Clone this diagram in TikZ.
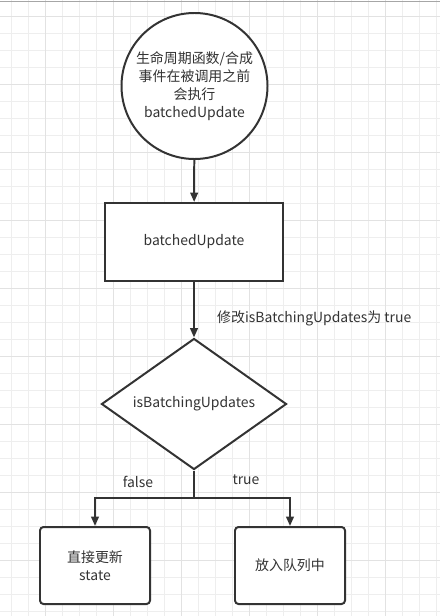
\documentclass[tikz,border=0pt]{standalone}
\usepackage{fontspec}
\setmainfont{Noto Sans CJK SC}
\usetikzlibrary{shapes.geometric,arrows.meta}
\definecolor{ink}{HTML}{333333}
\definecolor{gridminor}{HTML}{EEEEEE}
\definecolor{gridmajor}{HTML}{E2E2E2}
\begin{document}
\begin{tikzpicture}[x=0.03cm,y=-0.03cm,
        font=\fontsize{11.9}{15.3}\selectfont, text=ink,
        startnode/.style={circle,draw=ink,line width=1.7pt,minimum size=4.38cm,inner sep=0pt,align=center},
        procbox/.style={rectangle,draw=ink,line width=1.7pt,minimum width=5.34cm,minimum height=2.34cm},
        decision/.style={diamond,draw=ink,line width=1.7pt,shape aspect=1.41,inner sep=0pt,minimum width=5.55cm,minimum height=3.93cm},
        endbox/.style={rectangle,rounded corners=3pt,draw=ink,line width=1.7pt,minimum width=3.3cm,minimum height=2.31cm,align=center},
        arr/.style={draw=ink,line width=1.7pt,-{Triangle[length=8pt,width=6.5pt]}}]
        \useasboundingbox (0,0) rectangle (440,616);

        % grid paper
        \foreach \k in {0,...,25}
            \draw[gridminor,line width=0.6pt] (11.7+17*\k,0) -- (11.7+17*\k,616);
        \foreach \k in {0,...,35}
            \draw[gridminor,line width=0.6pt] (0,16+17*\k) -- (440,16+17*\k);
        \foreach \k in {0,...,6}
            \draw[gridmajor,line width=0.6pt] (45.7+68*\k,0) -- (45.7+68*\k,616);
        \foreach \k in {0,...,8}
            \draw[gridmajor,line width=0.6pt] (0,16+68*\k) -- (440,16+68*\k);
        \draw[gray!70,line width=0.8pt] (0,1) -- (440,1);

        \node[startnode,fill=white] (start) at (194.5,86) {生命周期函数/合成\\事件在被调用之前\\会执行\\batchedUpdate};
        \node[procbox,fill=white] (batch) at (194,242) {batchedUpdate};
        \node[decision,fill=white] (check) at (194,404) {isBatchingUpdates};
        \node[endbox,fill=white] (direct) at (95,565.5) {直接更新\\state};
        \node[endbox,fill=white] (queue) at (290,565.5) {放入队列中};
        \coordinate (split) at (194,498);

        \draw[arr] (start) -- (batch);
        \draw[arr] (batch) -- node[pos=0.65,anchor=west,xshift=0.55cm] (setflag) {修改isBatchingUpdates为 true} (check);
        \draw[draw=ink,line width=1.7pt] (check.south) -- (split);
        \draw[arr] (split) -| (direct.north);
        \draw[arr] (split) -| (queue.north);
        \node (falselbl) at (138,482) {false};
        \node (truelbl) at (246,480) {true};
    \end{tikzpicture}
\end{document}
